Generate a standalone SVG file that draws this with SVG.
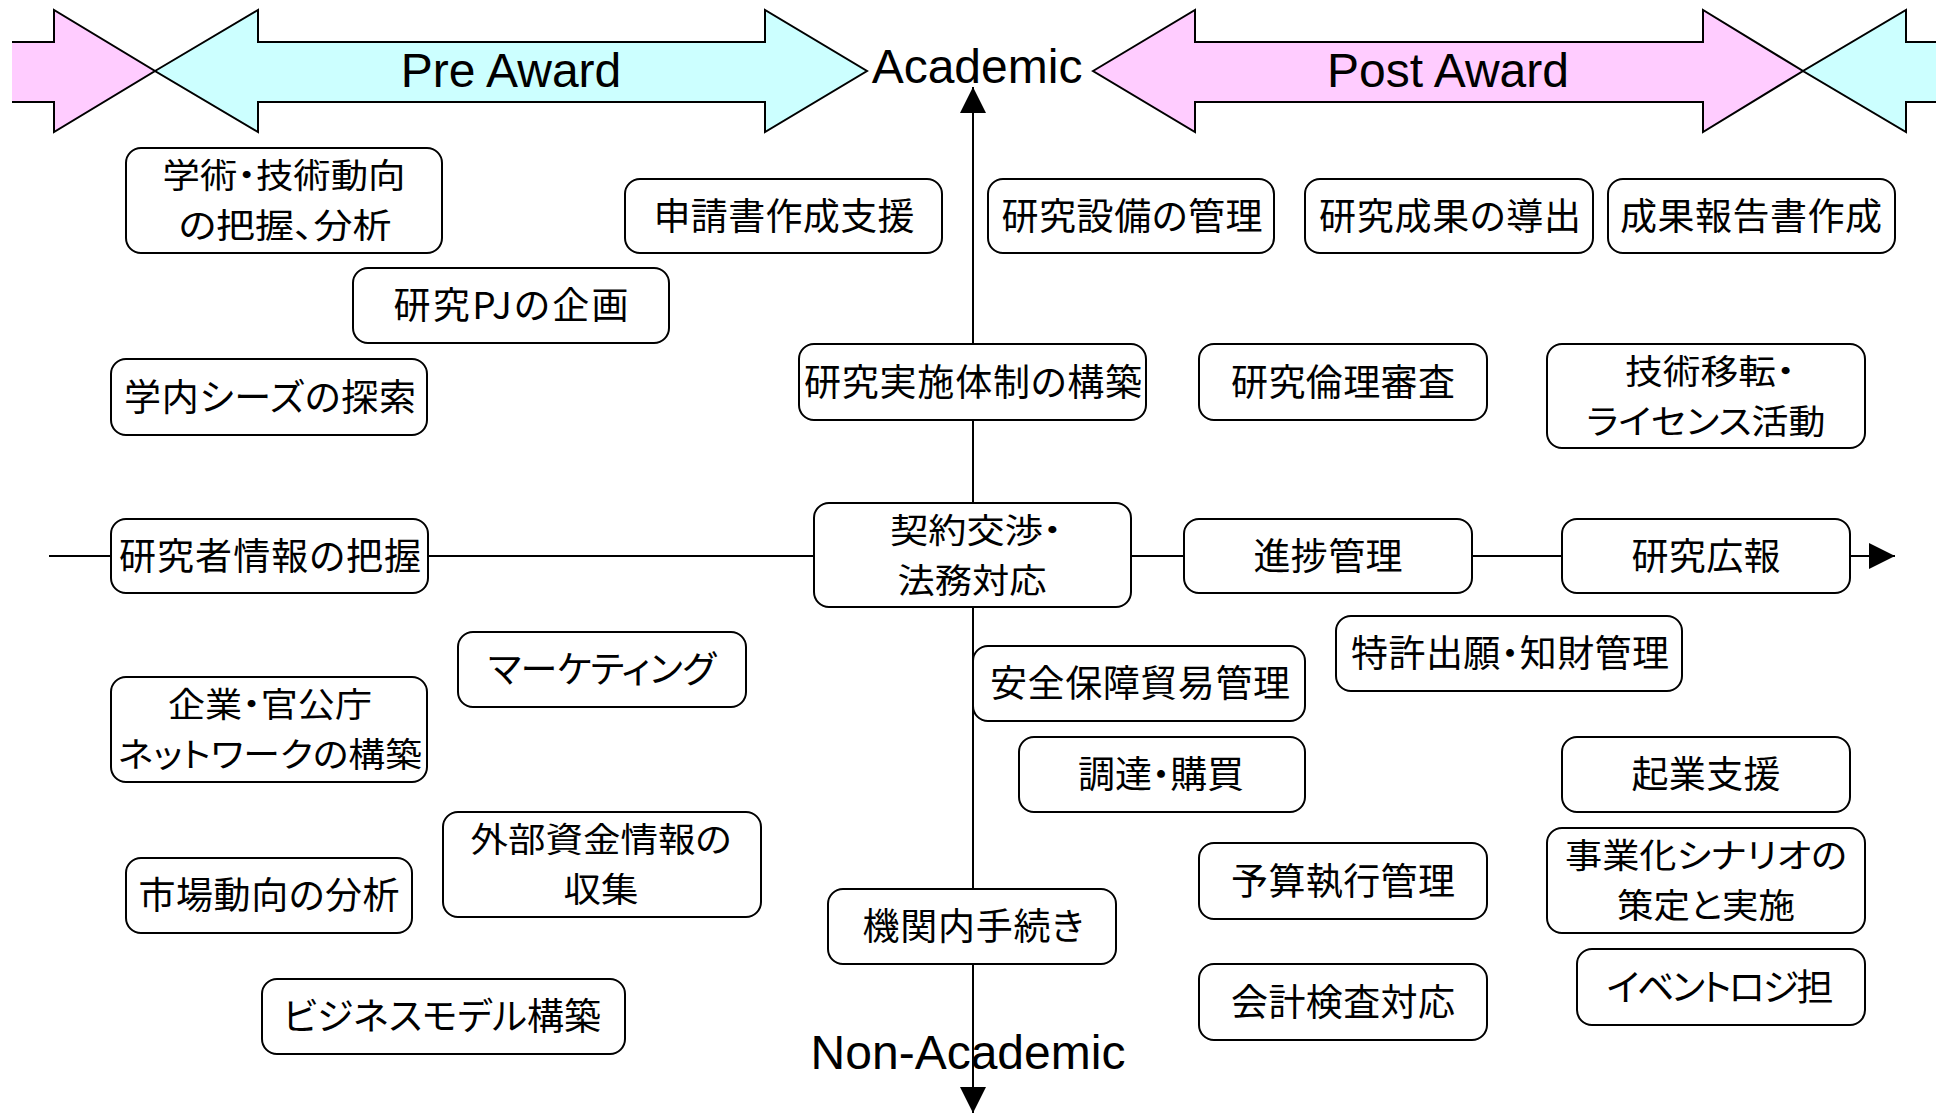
<svg xmlns="http://www.w3.org/2000/svg" width="1936" height="1117" viewBox="0 0 1936 1117">
<style>
.bg{fill:#ffffff}
.box{fill:#ffffff;stroke:#000000;stroke-width:2}
.t{font-family:"Noto Sans CJK JP","Noto Sans CJK SC",sans-serif;font-size:37px;fill:#000000;text-anchor:middle;font-feature-settings:"palt"}
.t2{font-size:34px}
.lbl{font-family:"Liberation Sans",Arial,sans-serif;font-size:48px;fill:#000000;text-anchor:middle}
.band{stroke:#000000;stroke-width:2;stroke-linejoin:miter}
.pink{fill:#FFCCFF}
.cyan{fill:#CCFFFF}
.axis{stroke:#000000;stroke-width:2;fill:none}
</style>
<defs>
<marker id="ah" markerUnits="userSpaceOnUse" markerWidth="26" markerHeight="26" refX="26" refY="13" orient="auto" viewBox="0 0 26 26">
<path d="M0,0 L26,13 L0,26 Z" fill="#000000"/>
</marker>
</defs>
<rect class="bg" x="0" y="0" width="1936" height="1117"/>

<g id="phase-arrows">
<polygon class="pink" points="12,42 54,42 54,10 155,71 54,132 54,102 12,102"/>
<polyline class="band" fill="none" points="12,42 54,42 54,10 155,71 54,132 54,102 12,102"/>
<polygon class="cyan band" points="155,71 258,10 258,42 765,42 765,10 867,71 765,132 765,102 258,102 258,132"/>
<polygon class="pink band" points="1093,71 1195,10 1195,42 1703,42 1703,10 1803,71 1703,132 1703,102 1195,102 1195,132"/>
<polygon class="cyan" points="1803,71 1906,10 1906,42 1936,42 1936,102 1906,102 1906,132"/>
<polyline class="band" fill="none" points="1936,42 1906,42 1906,10 1803,71 1906,132 1906,102 1936,102"/>
<text class="lbl" x="511" y="87">Pre Award</text>
<text class="lbl" x="1448" y="87">Post Award</text>
</g>

<g id="connectors">
<line class="axis" x1="973" y1="556" x2="973" y2="87" marker-end="url(#ah)"/>
<line class="axis" x1="973" y1="556" x2="973" y2="1113" marker-end="url(#ah)"/>
<line class="axis" x1="49" y1="556" x2="1895" y2="556" marker-end="url(#ah)"/>
</g>

<g id="axis-labels">
<text class="lbl" x="977" y="83">Academic</text>
<text class="lbl" x="968" y="1069">Non-Academic</text>
</g>

<g id="n1"><rect class="box" x="126" y="148" width="316" height="105" rx="15"/>
<text class="t t2" lengthAdjust="spacingAndGlyphs"><tspan x="284" y="188" textLength="243" lengthAdjust="spacingAndGlyphs">学術・技術動向</tspan><tspan x="285" y="238" textLength="213" lengthAdjust="spacingAndGlyphs">の把握、分析</tspan></text></g>

<g id="n2"><rect class="box" x="625" y="179" width="317" height="74" rx="15"/>
<text class="t" x="784" y="230" textLength="261">申請書作成支援</text></g>

<g id="n3"><rect class="box" x="353" y="268" width="316" height="75" rx="15"/>
<text class="t" x="511" y="319" textLength="235">研究PJの企画</text></g>

<g id="n4"><rect class="box" x="111" y="359" width="316" height="76" rx="15"/>
<text class="t" x="270" y="411" textLength="292">学内シーズの探索</text></g>

<g id="n5"><rect class="box" x="988" y="179" width="286" height="74" rx="15"/>
<text class="t" x="1132" y="230" textLength="261">研究設備の管理</text></g>

<g id="n6"><rect class="box" x="1305" y="179" width="288" height="74" rx="15"/>
<text class="t" x="1450" y="230" textLength="262">研究成果の導出</text></g>

<g id="n7"><rect class="box" x="1608" y="179" width="287" height="74" rx="15"/>
<text class="t" x="1751" y="230" textLength="262">成果報告書作成</text></g>

<g id="n8"><rect class="box" x="799" y="344" width="347" height="76" rx="15"/>
<text class="t" x="973" y="396" textLength="338">研究実施体制の構築</text></g>

<g id="n9"><rect class="box" x="1199" y="344" width="288" height="76" rx="15"/>
<text class="t" x="1343" y="396" textLength="224">研究倫理審査</text></g>

<g id="n10"><rect class="box" x="1547" y="344" width="318" height="104" rx="15"/>
<text class="t t2"><tspan x="1710" y="384" textLength="170" lengthAdjust="spacingAndGlyphs">技術移転・</tspan><tspan x="1706" y="434" textLength="239" lengthAdjust="spacingAndGlyphs">ライセンス活動</tspan></text></g>

<g id="n11"><rect class="box" x="111" y="519" width="317" height="74" rx="15"/>
<text class="t" x="270" y="570" textLength="302">研究者情報の把握</text></g>

<g id="n12"><rect class="box" x="814" y="503" width="317" height="104" rx="15"/>
<text class="t t2"><tspan x="976" y="543" textLength="172" lengthAdjust="spacingAndGlyphs">契約交渉・</tspan><tspan x="972" y="593" textLength="149" lengthAdjust="spacingAndGlyphs">法務対応</tspan></text></g>

<g id="n13"><rect class="box" x="1184" y="519" width="288" height="74" rx="15"/>
<text class="t" x="1328" y="570" textLength="149">進捗管理</text></g>

<g id="n14"><rect class="box" x="1562" y="519" width="288" height="74" rx="15"/>
<text class="t" x="1706" y="570" textLength="149">研究広報</text></g>

<g id="n15"><rect class="box" x="1336" y="616" width="346" height="75" rx="15"/>
<text class="t" x="1510" y="667" textLength="318">特許出願・知財管理</text></g>

<g id="n16"><rect class="box" x="458" y="632" width="288" height="75" rx="15"/>
<text class="t" x="602" y="683" textLength="228">マーケティング</text></g>

<g id="n17"><rect class="box" x="111" y="677" width="316" height="105" rx="15"/>
<text class="t t2"><tspan x="270" y="717" textLength="204" lengthAdjust="spacingAndGlyphs">企業・官公庁</tspan><tspan x="270" y="767" textLength="304" lengthAdjust="spacingAndGlyphs">ネットワークの構築</tspan></text></g>

<g id="n18"><rect class="box" x="973" y="646" width="332" height="75" rx="15"/>
<text class="t" x="1140" y="697" textLength="300">安全保障貿易管理</text></g>

<g id="n19"><rect class="box" x="1019" y="737" width="286" height="75" rx="15"/>
<text class="t" x="1161" y="788" textLength="166">調達・購買</text></g>

<g id="n20"><rect class="box" x="1562" y="737" width="288" height="75" rx="15"/>
<text class="t" x="1706" y="788" textLength="149">起業支援</text></g>

<g id="n21"><rect class="box" x="1547" y="828" width="318" height="105" rx="15"/>
<text class="t t2"><tspan x="1706" y="868" textLength="282" lengthAdjust="spacingAndGlyphs">事業化シナリオの</tspan><tspan x="1706" y="918" textLength="178" lengthAdjust="spacingAndGlyphs">策定と実施</tspan></text></g>

<g id="n22"><rect class="box" x="1577" y="949" width="288" height="76" rx="15"/>
<text class="t" x="1720" y="1001" textLength="227">イベントロジ担</text></g>

<g id="n23"><rect class="box" x="443" y="812" width="318" height="105" rx="15"/>
<text class="t t2"><tspan x="601" y="852" textLength="261" lengthAdjust="spacingAndGlyphs">外部資金情報の</tspan><tspan x="601" y="902" textLength="75" lengthAdjust="spacingAndGlyphs">収集</tspan></text></g>

<g id="n24"><rect class="box" x="126" y="858" width="286" height="75" rx="15"/>
<text class="t" x="269" y="909" textLength="261">市場動向の分析</text></g>

<g id="n25"><rect class="box" x="1199" y="843" width="288" height="76" rx="15"/>
<text class="t" x="1343" y="895" textLength="224">予算執行管理</text></g>

<g id="n26"><rect class="box" x="828" y="889" width="288" height="75" rx="15"/>
<text class="t" x="973" y="940" textLength="221">機関内手続き</text></g>

<g id="n27"><rect class="box" x="1199" y="964" width="288" height="76" rx="15"/>
<text class="t" x="1343" y="1016" textLength="224">会計検査対応</text></g>

<g id="n28"><rect class="box" x="262" y="979" width="363" height="75" rx="15"/>
<text class="t" x="442" y="1030" textLength="318">ビジネスモデル構築</text></g>
</svg>
